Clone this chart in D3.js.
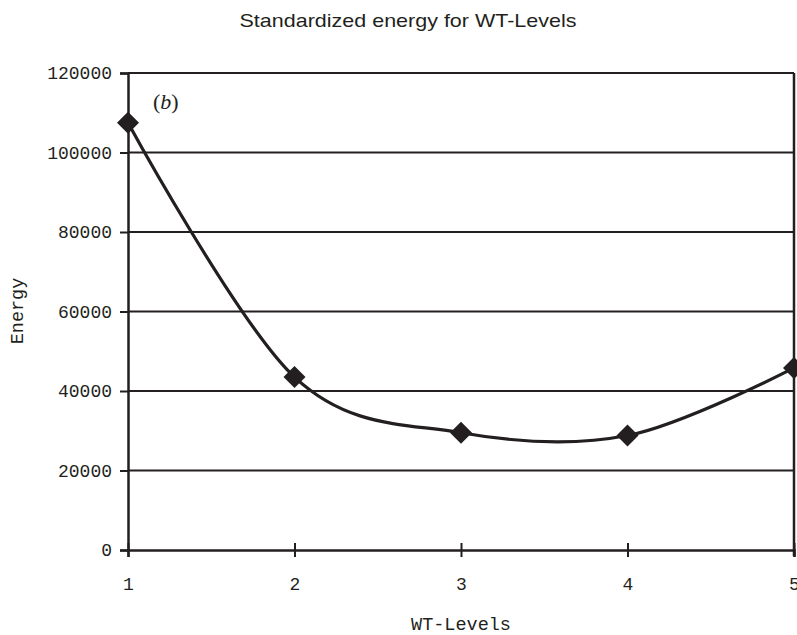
<!DOCTYPE html>
<html><head><meta charset="utf-8">
<script src="https://cdn.jsdelivr.net/npm/d3@7"></script>
<style>body{margin:0;background:#fff}svg{display:block}</style>
</head><body>
<svg id="c" width="797" height="635"></svg>
<script>
const levels = [1, 2, 3, 4, 5];
const energy = [107500, 43500, 29500, 28800, 45800];
const yTicks = [0, 20000, 40000, 60000, 80000, 100000, 120000];
const title = "Standardized energy for WT-Levels";
const xLabel = "WT-Levels";
const yLabel = "Energy";
const panelTag = "(b)";

const svg = d3.select("#c");
const m = {l:128, r:794, t:73, b:550};
const x = d3.scaleLinear().domain([1,5]).range([m.l, m.r]);
const y = d3.scaleLinear().domain([0,120000]).range([m.b, m.t]);
const ink = "#231f20";

// gridlines
svg.append("g").selectAll("line").data(yTicks.filter(d=>d>0)).join("line")
  .attr("x1", m.l).attr("x2", m.r).attr("y1", d=>y(d)).attr("y2", d=>y(d))
  .attr("stroke", ink).attr("stroke-width", 2);

// right border
svg.append("line").attr("x1", m.r).attr("x2", m.r).attr("y1", m.t).attr("y2", m.b+6)
  .attr("stroke", ink).attr("stroke-width", 2.5);

// y axis
const ya = svg.append("g").attr("transform", `translate(${m.l},0)`)
  .call(d3.axisLeft(y).tickValues(yTicks).tickSize(8).tickPadding(8).tickFormat(d3.format("d")));
ya.select(".domain").attr("stroke", ink).attr("stroke-width", 2.5);
ya.selectAll(".tick line").attr("stroke", ink).attr("stroke-width", 2);
ya.selectAll("text").attr("font-family", "'Liberation Mono', monospace").attr("font-size", 18).attr("fill", ink);

// x axis
const xa = svg.append("g").attr("transform", `translate(0,${m.b})`)
  .call(d3.axisBottom(x).tickValues(levels).tickSize(7).tickPadding(20).tickFormat(d3.format("d")));
xa.select(".domain").attr("stroke", ink).attr("stroke-width", 2.5);
xa.selectAll(".tick line").attr("stroke", ink).attr("stroke-width", 2).attr("y1", -7);
xa.selectAll("text").attr("font-family", "'Liberation Mono', monospace").attr("font-size", 18).attr("fill", ink);

// line
const pts = levels.map((l,i)=>[l, energy[i]]);
svg.append("path").datum(pts)
  .attr("d", d3.line().x(d=>x(d[0])).y(d=>y(d[1])).curve(d3.curveCardinal.tension(0)))
  .attr("fill", "none").attr("stroke", ink).attr("stroke-width", 3.2);

// markers
svg.append("g").selectAll("path").data(pts).join("path")
  .attr("transform", d=>`translate(${x(d[0])},${y(d[1])})`)
  .attr("d", "M0,-11L11,0L0,11L-11,0Z").attr("fill", ink);

// title
svg.append("text").attr("x", 408).attr("y", 27).attr("text-anchor", "middle")
  .attr("font-family", "'Liberation Sans', Arial, sans-serif").attr("font-size", 19)
  .attr("textLength", 337).attr("lengthAdjust", "spacingAndGlyphs")
  .attr("fill", ink).text(title);

// axis labels
svg.append("text").attr("x", 461).attr("y", 630).attr("text-anchor", "middle")
  .attr("font-family", "'Liberation Mono', monospace").attr("font-size", 18.5)
  .attr("fill", ink).text(xLabel);
svg.append("text").attr("transform", "translate(23,311) rotate(-90)").attr("text-anchor", "middle")
  .attr("font-family", "'Liberation Mono', monospace").attr("font-size", 18.5)
  .attr("fill", ink).text(yLabel);

// panel tag
svg.append("text").attr("x", 153).attr("y", 109)
  .attr("font-family", "'Liberation Serif', 'Times New Roman', serif").attr("font-size", 22)
  .attr("fill", ink).html('(<tspan font-style="italic">b</tspan>)');
</script>
</body></html>
